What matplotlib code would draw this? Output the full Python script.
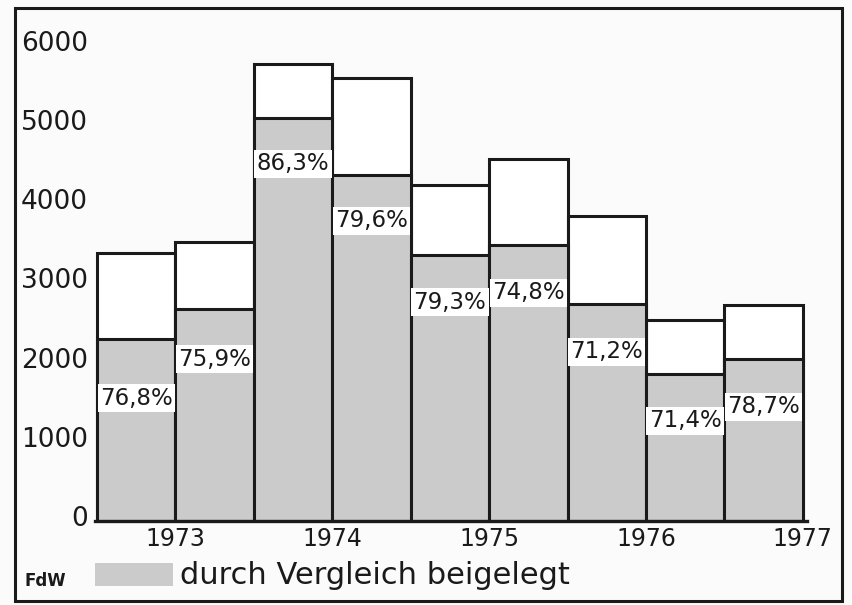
import matplotlib.pyplot as plt
from matplotlib.patches import Rectangle
from matplotlib.transforms import ScaledTranslation

# half-year periods, 2nd half 1972 .. 2nd half 1976
totals = [3380, 3530, 5770, 5590, 4250, 4570, 3850, 2540, 2730]
settled = [2300, 2680, 5090, 4370, 3360, 3490, 2740, 1860, 2050]
pct_labels = ['76,8%', '75,9%', '86,3%', '79,6%', '79,3%', '74,8%', '71,2%', '71,4%', '78,7%']
label_y = [1550, 2045, 4510, 3790, 2765, 2880, 2135, 1265, 1440]
year_ticks = [1, 3, 5, 7, 9]
year_labels = ['1973', '1974', '1975', '1976', '1977']
y_ticks = [0, 1000, 2000, 3000, 4000, 5000, 6000]

W, H = 853, 605
fig = plt.figure(figsize=(W / 100, H / 100), dpi=100)
fig.patch.set_facecolor('#fbfbfb')

# outer frame
fig.add_artist(Rectangle((15 / W, 1 - 601 / H), (842 - 15) / W, (601 - 8) / H,
                         transform=fig.transFigure, fill=False, lw=2.2, ec='#1a1a1a'))

ax = fig.add_axes([95 / W, 1 - 521 / H, (842 - 95) / W, (521 - 8) / H])
ax.set_facecolor('none')
grey = '#cbcbcb'
x = list(range(len(totals)))
ax.bar(x, totals, width=1, align='edge', color='white', edgecolor='#1a1a1a', lw=2.2, zorder=2)
ax.bar(x, settled, width=1, align='edge', color=grey, edgecolor='#1a1a1a', lw=2.2, zorder=3)

for i, (lab, yy) in enumerate(zip(pct_labels, label_y)):
    ax.text(i + 0.5, yy, lab, ha='center', va='center', fontsize=16.5, color='#1a1a1a', zorder=5,
            bbox=dict(boxstyle='square,pad=0.1', fc='white', ec='none'))

ax.set_xlim(-0.025, 9.5)
ax.set_ylim(0, 6480)
for s in ['top', 'right', 'left']:
    ax.spines[s].set_visible(False)
ax.spines['bottom'].set_linewidth(2.4)
ax.spines['bottom'].set_color('#1a1a1a')
ax.spines['bottom'].set_bounds(-0.025, 9.05)
ax.spines['bottom'].set_zorder(4)

ax.set_xticks(year_ticks)
ax.set_xticklabels(year_labels)
ax.set_yticks(y_ticks)
ax.tick_params(length=0, labelsize=17, colors='#1a1a1a')
ax.tick_params(axis='y', pad=5, labelsize=19)
ax.tick_params(axis='x', pad=4)
for t in ax.get_yticklabels():
    t.set_transform(t.get_transform() + ScaledTranslation(0, 5 / 100, fig.dpi_scale_trans))

# legend
fig.add_artist(Rectangle((95 / W, 1 - 586 / H), 78 / W, 23 / H,
                         transform=fig.transFigure, fc=grey, ec='none'))
fig.text(180 / W, 1 - 575 / H, 'durch Vergleich beigelegt', fontsize=22,
         va='center', ha='left', color='#1a1a1a')
fig.text(25 / W, 1 - 581 / H, 'FdW', fontsize=12, fontweight='bold',
         va='center', ha='left', color='#1a1a1a')

fig.savefig('out.png', dpi=100, facecolor=fig.get_facecolor())
